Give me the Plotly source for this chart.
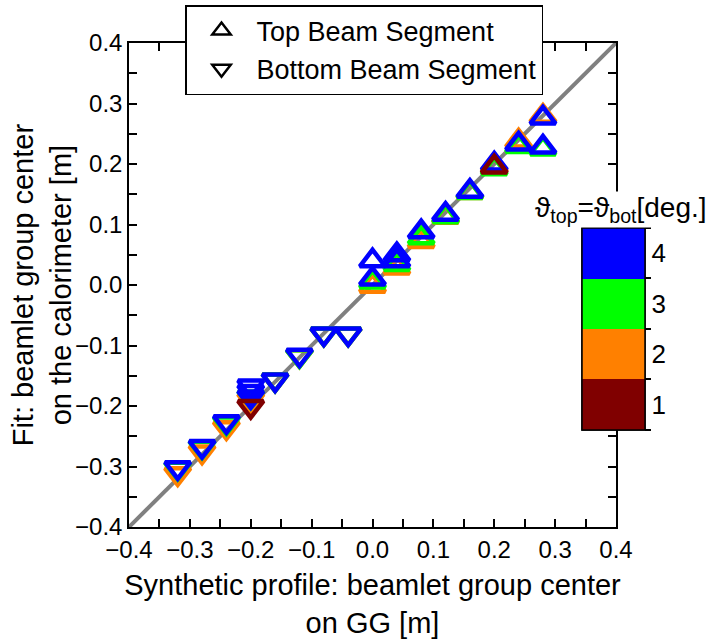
import plotly.graph_objects as go

# ---- data ----
# Top beam segment (triangle-up), per angle [deg]
top_x_a2 = [0.0, 0.04, 0.08, 0.12, 0.16, 0.20, 0.24, 0.28]
top_y_a2 = [-0.002, 0.028, 0.072, 0.112, 0.153, 0.197, 0.238, 0.279]
top_x_a3 = [0.0, 0.04, 0.08, 0.12, 0.16, 0.20, 0.24, 0.28]
top_y_a3 = [0.005, 0.034, 0.078, 0.113, 0.153, 0.192, 0.229, 0.225]
top_x_a4 = [0.0, 0.0, 0.04, 0.04, 0.08, 0.12, 0.16, 0.20, 0.24, 0.28, 0.28]
top_y_a4 = [0.040, 0.010, 0.050, 0.040, 0.088, 0.117, 0.155, 0.200, 0.233, 0.276, 0.228]
top_x_a1 = [0.20]
top_y_a1 = [0.195]

# Bottom beam segment (triangle-down), per angle [deg]
bot_x_a2 = [-0.32, -0.28, -0.24, -0.20, -0.16, -0.12, -0.08, -0.04]
bot_y_a2 = [-0.312, -0.276, -0.236, -0.190, -0.157, -0.117, -0.081, -0.081]
bot_x_a3 = [-0.32, -0.28, -0.24, -0.20, -0.16, -0.12, -0.08, -0.04]
bot_y_a3 = [-0.303, -0.268, -0.228, -0.185, -0.157, -0.117, -0.081, -0.081]
bot_x_a1 = [-0.20]
bot_y_a1 = [-0.201]
bot_x_a4 = [-0.32, -0.28, -0.24, -0.20, -0.20, -0.20, -0.16, -0.12, -0.08, -0.04]
bot_y_a4 = [-0.302, -0.267, -0.226, -0.167, -0.176, -0.185, -0.157, -0.116, -0.081, -0.081]

angle_ticks = [1, 2, 3, 4]
angle_edges = [0.5, 1.5, 2.5, 3.5, 4.5]
angle_colors = ["#800000", "#FF8000", "#00FF00", "#0000FF"]
diag = [-0.4, 0.4]

FONT = "Liberation Sans, Arial, sans-serif"

# discrete colorscale
cs = []
for i, c in enumerate(angle_colors):
    cs.append([i / 4, c])
    cs.append([(i + 1) / 4, c])


def seg(xs_list, ys_list, angs):
    X, Y, C = [], [], []
    for xs, ys, a in zip(xs_list, ys_list, angs):
        X += xs
        Y += ys
        C += [a] * len(xs)
    return X, Y, C


tX, tY, tC = seg([top_x_a2, top_x_a3, top_x_a4, top_x_a1],
                 [top_y_a2, top_y_a3, top_y_a4, top_y_a1], [2, 3, 4, 1])
bX, bY, bC = seg([bot_x_a2, bot_x_a3, bot_x_a4, bot_x_a1],
                 [bot_y_a2, bot_y_a3, bot_y_a4, bot_y_a1], [2, 3, 4, 1])

fig = go.Figure()

fig.add_trace(go.Scatter(x=diag, y=diag, mode="lines",
                         line=dict(color="#808080", width=4),
                         showlegend=False, hoverinfo="skip"))

MS = 22
LW = 4.5

CB_X, CB_Y, CB_LEN, CB_TH = 0.93, 0.618, 0.417, 63

fig.add_trace(go.Scatter(
    x=tX, y=tY, mode="markers", showlegend=False,
    marker=dict(symbol="triangle-up-open", size=MS, color=tC,
                colorscale=cs, cmin=0.5, cmax=4.5, line=dict(width=LW),
                showscale=True,
                colorbar=dict(
                    x=CB_X, xanchor="left", y=CB_Y, yanchor="top",
                    xpad=0, ypad=0,
                    len=CB_LEN, lenmode="fraction",
                    thickness=CB_TH, outlinewidth=1.5, outlinecolor="black",
                    tickvals=angle_ticks, ticktext=[str(v) for v in angle_ticks],
                    ticks="", ticklabelposition="outside",
                    tickfont=dict(family=FONT, size=26, color="black"),
                ))))

fig.add_trace(go.Scatter(
    x=bX, y=bY, mode="markers", showlegend=False,
    marker=dict(symbol="triangle-down-open", size=MS, color=bC,
                colorscale=cs, cmin=0.5, cmax=4.5, line=dict(width=LW),
                showscale=True,
                colorbar=dict(
                    x=CB_X, xanchor="left", y=CB_Y, yanchor="top",
                    xpad=0, ypad=0,
                    len=CB_LEN, lenmode="fraction",
                    thickness=CB_TH, outlinewidth=1.5, outlinecolor="black",
                    tickvals=angle_edges, showticklabels=False,
                    ticks="outside", ticklen=6, tickwidth=1.5, tickcolor="black",
                ))))

fig.add_trace(go.Scatter(x=[None], y=[None], mode="markers", name="Top Beam Segment",
                         marker=dict(symbol="triangle-up-open", size=16, color="black",
                                     line=dict(width=2.5))))
fig.add_trace(go.Scatter(x=[None], y=[None], mode="markers", name="Bottom Beam Segment",
                         marker=dict(symbol="triangle-down-open", size=16, color="black",
                                     line=dict(width=2.5))))

axis_common = dict(
    range=[-0.4, 0.4], dtick=0.1, tick0=0, tickformat=".1f",
    showgrid=False, zeroline=False,
    showline=True, linecolor="black", linewidth=1.5, mirror="allticks",
    ticks="inside", ticklen=8, tickwidth=1.5, tickcolor="black",
    minor=dict(dtick=0.05, ticks="inside", ticklen=8, tickwidth=1.5, tickcolor="black"),
    tickfont=dict(family=FONT, size=24, color="black"),
)

fig.update_xaxes(**axis_common,
                 title=dict(text="Synthetic profile: beamlet group center<br>on GG [m]",
                            font=dict(family=FONT, size=29, color="black"), standoff=16))
fig.update_yaxes(**axis_common)

# y-axis title placed as rotated text
fig.add_annotation(text="Fit: beamlet group center<br>on the calorimeter [m]",
                   xref="paper", yref="paper", x=-0.178, y=0.5,
                   xanchor="center", yanchor="middle", textangle=-90,
                   showarrow=False,
                   font=dict(family=FONT, size=29, color="black"))

fig.add_annotation(text="ϑ<sub>top</sub>=ϑ<sub>bot</sub>[deg.]",
                   xref="paper", yref="paper", x=1.01, y=CB_Y,
                   xanchor="center", yanchor="bottom", showarrow=False,
                   bgcolor="white", borderpad=0,
                   font=dict(family=FONT, size=28, color="black"))

fig.update_layout(
    width=712, height=639,
    margin=dict(l=129, r=96, t=43, b=112, autoexpand=False),
    plot_bgcolor="white", paper_bgcolor="white",
    font=dict(family=FONT, color="black"),
    legend=dict(x=0.115, y=1.0785, xanchor="left", yanchor="top",
                bgcolor="white", bordercolor="black", borderwidth=1.5,
                font=dict(family=FONT, size=27, color="black"),
                itemwidth=60, tracegroupgap=0),
)

fig.write_html("out.html")
